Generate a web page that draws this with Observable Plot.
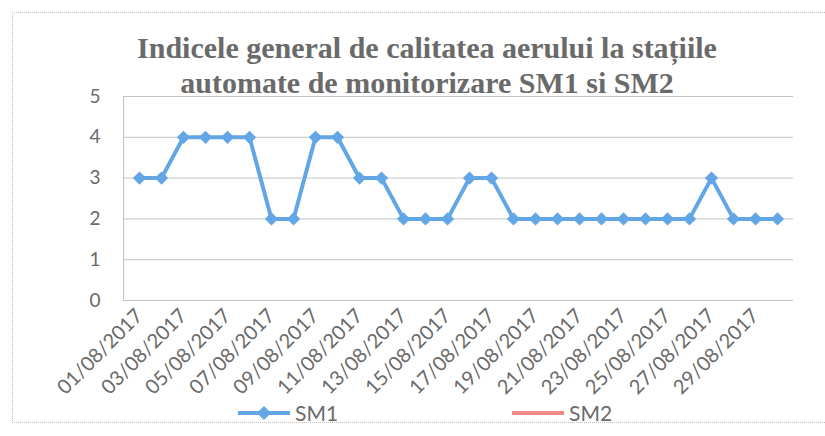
<!DOCTYPE html>
<html>
<head>
<meta charset="utf-8">
<script src="https://cdn.jsdelivr.net/npm/d3@7"></script>
<script src="https://cdn.jsdelivr.net/npm/@observablehq/plot@0.6"></script>
<style>
  html, body { margin: 0; padding: 0; background: #fff; overflow: hidden; }
  #wrap { position: relative; width: 825px; height: 436px; overflow: hidden; background: #fff; }
  #border { position: absolute; left: 12px; top: 12px; width: 813px; height: 411px; border: 1px dotted #bdbdbd; border-right: none; box-sizing: border-box; }
  #title { position: absolute; left: 0; top: 30px; width: 854px; text-align: center; font-family: "Liberation Serif", serif; font-weight: bold; font-size: 30px; line-height: 35px; color: #6a6a6a; }
  #chart { position: absolute; left: 0; top: 0; }
  .leg { position: absolute; top: 400px; font-family: Lato, sans-serif; font-size: 21px; color: #6a6a6a; display: flex; align-items: center; }
  .leg .sw { position: relative; width: 52px; height: 4px; margin-right: 5px; }
</style>
</head>
<body>
<div id="wrap">
  <div id="border"></div>
  <div id="chart"></div>
  <div id="title">Indicele general de calitatea aerului la stațiile<br>automate de monitorizare SM1 si SM2</div>
  <div class="leg" id="leg1" style="left:238px"></div>
  <div class="leg" id="leg2" style="left:512px"></div>
</div>
<script>
// Data
const dates = ["01/08/2017","02/08/2017","03/08/2017","04/08/2017","05/08/2017","06/08/2017","07/08/2017","08/08/2017","09/08/2017","10/08/2017",
               "11/08/2017","12/08/2017","13/08/2017","14/08/2017","15/08/2017","16/08/2017","17/08/2017","18/08/2017","19/08/2017","20/08/2017",
               "21/08/2017","22/08/2017","23/08/2017","24/08/2017","25/08/2017","26/08/2017","27/08/2017","28/08/2017","29/08/2017","30/08/2017"];
const sm1Values = [3,3,4,4,4,4,2,2,4,4,3,3,2,2,2,3,3,2,2,2,2,2,2,2,2,2,3,2,2,2];
const sm2Values = [];
const yTicks = [0,1,2,3,4,5];
const xTickLabels = ["01/08/2017","03/08/2017","05/08/2017","07/08/2017","09/08/2017","11/08/2017","13/08/2017","15/08/2017",
                     "17/08/2017","19/08/2017","21/08/2017","23/08/2017","25/08/2017","27/08/2017","29/08/2017"];
const seriesNames = ["SM1","SM2"];
const seriesColors = ["#62a6e6","#f08a84"];

const sm1 = dates.map((d, i) => ({date: d, value: sm1Values[i]}));
const sm2 = sm2Values.map((v, i) => ({date: dates[i], value: v}));

const plot = Plot.plot({
  width: 825,
  height: 436,
  marginLeft: 123,
  marginRight: 32,
  marginTop: 96,
  marginBottom: 136,
  style: {background: "transparent", color: "#6a6a6a", fontFamily: "Lato, sans-serif"},
  x: {type: "point", domain: dates, padding: 0.5},
  y: {domain: [0, 5]},
  marks: [
    Plot.ruleY(yTicks, {stroke: "#c4c4c4", strokeWidth: 1}),
    Plot.frame({anchor: "left", stroke: "#c4c4c4"}),
    Plot.axisY({ticks: yTicks, tickFormat: d => String(d), tickSize: 0, tickPadding: 23, fontSize: 19, label: null, fill: "#6a6a6a"}),
    Plot.axisX({ticks: xTickLabels, tickSize: 0, tickPadding: 12, tickRotate: -45, fontSize: 20, label: null, fill: "#6a6a6a"}),
    Plot.line(sm1, {x: "date", y: "value", stroke: seriesColors[0], strokeWidth: 4}),
    Plot.dot(sm1, {x: "date", y: "value", symbol: "diamond2", r: 6, fill: seriesColors[0], stroke: "none"}),
    Plot.line(sm2, {x: "date", y: "value", stroke: seriesColors[1], strokeWidth: 4})
  ]
});
document.getElementById("chart").appendChild(plot);

// Legend
function legend(el, name, color, marker) {
  const sw = document.createElement("div");
  sw.className = "sw";
  sw.style.background = color;
  if (marker) {
    const m = document.createElement("div");
    m.style.cssText = `position:absolute;left:21px;top:-3px;width:10px;height:10px;background:${color};transform:rotate(45deg);`;
    sw.appendChild(m);
  }
  el.appendChild(sw);
  const t = document.createElement("span");
  t.textContent = name;
  el.appendChild(t);
}
legend(document.getElementById("leg1"), seriesNames[0], seriesColors[0], true);
legend(document.getElementById("leg2"), seriesNames[1], seriesColors[1], false);
</script>
</body>
</html>
